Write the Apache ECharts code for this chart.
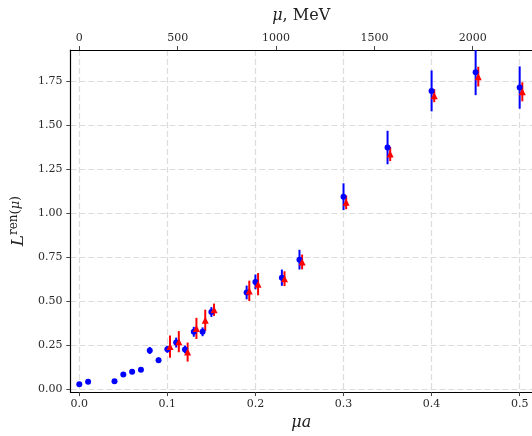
<!DOCTYPE html>
<html>
<head>
<meta charset="utf-8">
<script src="https://cdn.jsdelivr.net/npm/echarts@6/dist/echarts.min.js"></script>
<style>
  html, body { margin: 0; padding: 0; background: #fff; }
  #chart { width: 532px; height: 436px; }
</style>
</head>
<body>
<div id="chart"></div>
<script>
// blue circles: mu*a, L, error
var blueX = [0, 0.01, 0.04, 0.05, 0.06, 0.07, 0.08, 0.09, 0.10, 0.11, 0.12, 0.13, 0.14, 0.15, 0.19, 0.20, 0.23, 0.25, 0.30, 0.35, 0.40, 0.45, 0.50];
var blueY = [0.031, 0.044, 0.047, 0.086, 0.101, 0.113, 0.222, 0.167, 0.229, 0.267, 0.228, 0.328, 0.328, 0.440, 0.551, 0.611, 0.635, 0.737, 1.094, 1.373, 1.694, 1.800, 1.713];
var blueErr = [0.006, 0.006, 0.006, 0.008, 0.008, 0.008, 0.02, 0.015, 0.02, 0.028, 0.022, 0.028, 0.025, 0.028, 0.039, 0.042, 0.046, 0.056, 0.076, 0.095, 0.116, 0.13, 0.12];

// red triangles
var redX = [0.103, 0.113, 0.123, 0.133, 0.143, 0.153, 0.193, 0.203, 0.233, 0.253, 0.303, 0.353, 0.403, 0.453, 0.503];
var redY = [0.244, 0.272, 0.213, 0.347, 0.393, 0.453, 0.560, 0.598, 0.629, 0.724, 1.062, 1.336, 1.667, 1.775, 1.689];
var redErr = [0.063, 0.06, 0.054, 0.06, 0.06, 0.035, 0.058, 0.063, 0.042, 0.042, 0.039, 0.04, 0.037, 0.056, 0.054];

// tick labels
var xTicks = [0, 0.1, 0.2, 0.3, 0.4, 0.5];
var yTicks = [0, 0.25, 0.5, 0.75, 1.0, 1.25, 1.5, 1.75];
var muTicks = [0, 500, 1000, 1500, 2000];

// mu in MeV per unit of mu*a (1/a)
var aInv = 4477;
var xMin = -0.0101, xMax = 0.514;

function zip(xs, ys) {
    return xs.map(function (x, i) { return [x, ys[i]]; });
}
function bars(xs, ys, es) {
    return xs.map(function (x, i) { return [x, ys[i] - es[i], ys[i] + es[i]]; });
}
function errorBar(color) {
    return function (params, api) {
        var p1 = api.coord([api.value(0), api.value(1)]);
        var p2 = api.coord([api.value(0), api.value(2)]);
        return {
            type: 'line',
            shape: { x1: p1[0], y1: p1[1], x2: p2[0], y2: p2[1] },
            style: { stroke: color, lineWidth: 2 }
        };
    };
}

var font = 'DejaVu Serif';
var tickLabel = { fontFamily: font, fontSize: 11, color: '#2a2a2a' };
var myChart = echarts.init(document.getElementById('chart'));

var option = {
    animation: false,
    grid: { left: 69, right: -8, top: 50, bottom: 38, containLabel: false },
    xAxis: [{
        type: 'value',
        min: xMin, max: xMax,
        position: 'bottom',
        name: 'μa',
        nameLocation: 'middle',
        nameGap: 22,
        nameTextStyle: { fontFamily: font, fontSize: 16, fontStyle: 'italic', color: '#222' },
        axisLine: { onZero: false, lineStyle: { color: '#000', width: 1.2 } },
        axisTick: { customValues: xTicks, length: 4, lineStyle: { color: '#444' } },
        axisLabel: Object.assign({ customValues: xTicks, margin: 7, formatter: function (v) { return v.toFixed(1); } }, tickLabel),
        splitLine: { show: true, lineStyle: { color: '#dcdcdc', type: [6, 3], width: 1.2 } }
    }, {
        type: 'value',
        min: xMin * aInv, max: xMax * aInv,
        position: 'top',
        name: '{i|μ}, MeV',
        nameLocation: 'middle',
        nameGap: 26,
        nameTextStyle: {
            fontFamily: font, fontSize: 16, color: '#222',
            rich: { i: { fontFamily: font, fontSize: 16, fontStyle: 'italic', color: '#222' } }
        },
        axisLine: { onZero: false, lineStyle: { color: '#000', width: 1.2 } },
        axisTick: { customValues: muTicks, length: 4, lineStyle: { color: '#444' } },
        axisLabel: Object.assign({ customValues: muTicks, margin: 6, formatter: function (v) { return String(Math.round(v)); } }, tickLabel),
        splitLine: { show: false }
    }],
    yAxis: {
        type: 'value',
        min: -0.014, max: 1.926,
        name: '{L|L}{s|ren}{p|(}{m|μ}{p|)}',
        nameLocation: 'middle',
        nameGap: 41,
        nameTextStyle: {
            fontFamily: font, color: '#222',
            rich: {
                L: { fontFamily: font, fontSize: 17, fontStyle: 'italic', color: '#222' },
                s: { fontFamily: font, fontSize: 12, color: '#222', padding: [0, 0, 9, 0] },
                p: { fontFamily: font, fontSize: 13, color: '#222', padding: [0, 0, 6, 0] },
                m: { fontFamily: font, fontSize: 13, fontStyle: 'italic', color: '#222', padding: [0, 0, 6, 0] }
            }
        },
        axisLine: { show: true, onZero: false, lineStyle: { color: '#000', width: 1.2 } },
        axisTick: { show: true, customValues: yTicks, length: 4, lineStyle: { color: '#444' } },
        axisLabel: Object.assign({ customValues: yTicks, margin: 8, formatter: function (v) { return v.toFixed(2); } }, tickLabel),
        splitLine: { show: true, lineStyle: { color: '#dcdcdc', type: [6, 3], width: 1.2 } }
    },
    series: [{
        type: 'custom',
        renderItem: errorBar('#0000ff'),
        data: bars(blueX, blueY, blueErr),
        encode: { x: 0, y: [1, 2] },
        clip: true
    }, {
        type: 'scatter',
        data: zip(blueX, blueY),
        symbol: 'circle',
        symbolSize: 6,
        itemStyle: { color: '#0000ff', opacity: 1 }
    }, {
        type: 'custom',
        renderItem: errorBar('#ff0000'),
        data: bars(redX, redY, redErr),
        encode: { x: 0, y: [1, 2] },
        clip: true
    }, {
        type: 'scatter',
        data: zip(redX, redY),
        symbol: 'triangle',
        symbolSize: 7,
        itemStyle: { color: '#ff0000', opacity: 1 }
    }]
};

myChart.setOption(option);
</script>
</body>
</html>
